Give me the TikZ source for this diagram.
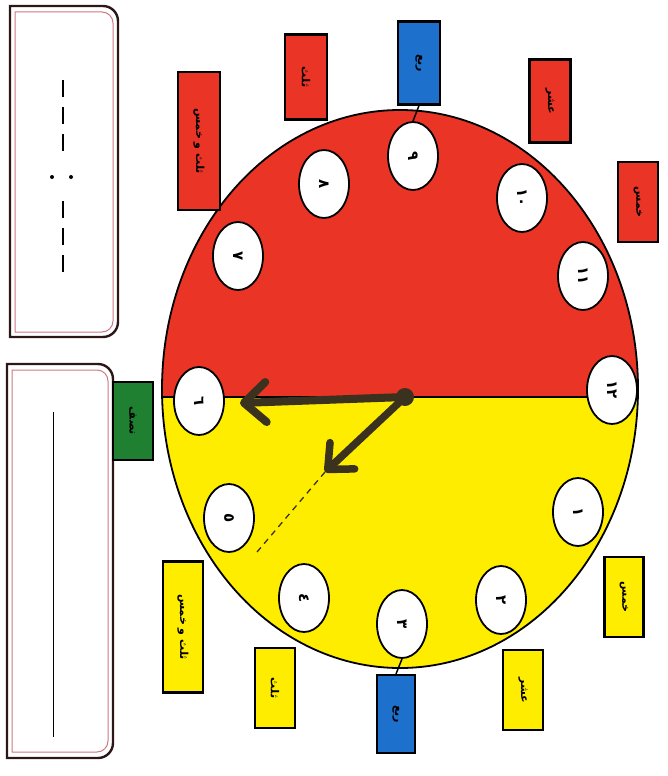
\documentclass[tikz,border=0pt]{standalone}
\usepackage{fontspec}
\usetikzlibrary{arrows.meta,shapes.geometric}
\TeXXeTstate=1
\newfontfamily\arabicfont[Script=Arabic]{DejaVu Sans}
\definecolor{ClockRed}   {RGB}{233,52,38}
\definecolor{ClockYellow}{RGB}{255,237,0}
\definecolor{QuarterBlue}{RGB}{30,112,205}
\definecolor{HalfGreen}  {RGB}{32,128,50}
\definecolor{HandColor}  {RGB}{58,50,30}
\definecolor{FrameDark}  {RGB}{45,22,24}
\definecolor{FrameRose}  {RGB}{205,120,130}

\begin{document}
\begin{tikzpicture}[x=1pt,y=-1pt,every node/.style={font=\arabicfont\bfseries},
  numoval/.style={ellipse,draw,line width=1.8pt,fill=white,minimum width=68pt,minimum height=50pt,
    inner sep=0pt,rotate=-90,font=\arabicfont\bfseries\fontsize{15}{17}\selectfont},
  minlabel/.style={rectangle,draw,line width=2.2pt,inner sep=0pt,rotate=-90,
    font=\arabicfont\bfseries\fontsize{11}{13}\selectfont}]
\useasboundingbox (0,0) rectangle (667,776);
% answer boxes
\draw[FrameDark,line width=2.4pt] (60,6) [rounded corners=15pt] -- (118,6) -- (118,337) -- (60,337) [sharp corners] -- (10,337) -- (10,6) -- cycle;
\draw[FrameRose,line width=1pt] (60,12) [rounded corners=11pt] -- (113,12) -- (113,332) -- (60,332) [sharp corners] -- (15,332) -- (15,12) -- cycle;
\foreach \a in {80,107,134,201,228,255} \draw[line width=2.2pt] (63,\a) -- (63,\a+17);
\fill (52,177) circle[radius=2pt] (71,177) circle[radius=2pt];
\draw[FrameDark,line width=2.4pt] (60,364) [rounded corners=15pt] -- (113,364) -- (113,758) -- (60,758) [sharp corners] -- (7,758) -- (7,364) -- cycle;
\draw[FrameRose,line width=1pt] (60,370) [rounded corners=11pt] -- (108,370) -- (108,752) -- (60,752) [sharp corners] -- (12,752) -- (12,370) -- cycle;
\draw[line width=1pt] (53,412) -- (53,737);
% clock face
\begin{scope}
  \clip (0,0) rectangle (667,397);
  \fill[ClockRed] (400,389) ellipse[x radius=238pt,y radius=279pt];
\end{scope}
\begin{scope}
  \clip (0,397) rectangle (667,776);
  \fill[ClockYellow] (400,389) ellipse[x radius=238pt,y radius=279pt];
\end{scope}
\draw[line width=1.8pt] (400,389) ellipse[x radius=238pt,y radius=279pt];
\draw[line width=1.4pt] (162,397) -- (638,397);
\foreach \h/\n/\x/\y in {12/١٢/612/390, 1/١/578/512, 2/٢/501/600, 3/٣/402/624, 4/٤/304/598, 5/٥/229/518,
    6/٦/199/401, 7/٧/238/256, 8/٨/324/184, 9/٩/413/156, 10/١٠/522/198, 11/١١/583/276}
  \node[numoval] (num\h) at (\x,\y) {\n};
% minute labels
\foreach \h/\c/\x/\y/\l/\w/\t in {1/ClockYellow/624/597/80/39/خمس, 2/ClockYellow/523/690/80/40/عشر,
    3/QuarterBlue/396/714/78/38/ربع, 4/ClockYellow/275/688/80/40/ثلث, 5/ClockYellow/183/627/131/40/ثلث و خمس,
    6/HalfGreen/133/421/78/40/نصف, 7/ClockRed/199/141/138/42/ثلث و خمس, 8/ClockRed/306/77/85/42/ثلث,
    9/QuarterBlue/419/63/83/42/ربع, 10/ClockRed/550/101/83/41/عشر, 11/ClockRed/638/202/80/40/خمس}
  \node[minlabel,fill=\c,minimum width=\l pt,minimum height=\w pt] (lbl\h) at (\x,\y) {\beginR\t\endR};
\draw[line width=1.5pt] (lbl9.east) -- (num9.west);
\draw[line width=1.5pt] (num3.east) -- (lbl3.west);
% hands
\node[circle,fill=HandColor,minimum size=18pt,inner sep=0pt] (pivot) at (405,397) {};
\coordinate (mintip) at (240,403);
\coordinate (hourtip) at (325,472);
\coordinate (dashend) at (257,552);
\draw[HandColor,line width=1.3pt,dash pattern=on 6pt off 5pt] (hourtip) -- (dashend);
\draw[HandColor,line width=8pt,line cap=round,-{Straight Barb[length=22pt,width=40pt,round]}] (pivot.center) -- (mintip);
\draw[HandColor,line width=7.5pt,line cap=round,-{Straight Barb[length=20pt,width=36pt,round]}] (pivot.center) -- (hourtip);
\end{tikzpicture}
\end{document}
